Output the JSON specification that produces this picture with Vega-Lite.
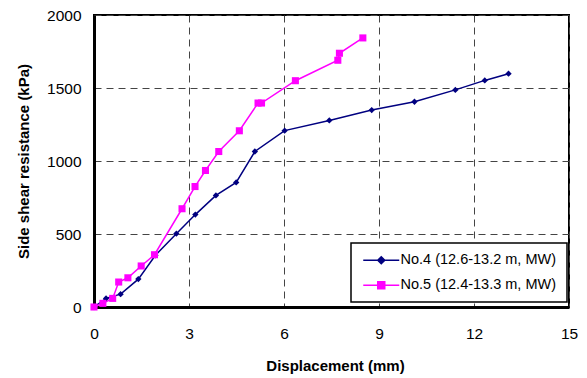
{
  "$schema": "https://vega.github.io/schema/vega-lite/v6.json",
  "width": 475,
  "height": 292,
  "autosize": {"type": "none"},
  "padding": {"left": 94, "top": 15, "right": 18, "bottom": 71},
  "background": "white",
  "config": {
    "font": "Liberation Sans",
    "view": {"stroke": "black", "strokeWidth": 2},
    "axis": {
      "labelFont": "Liberation Sans",
      "labelFontSize": 15.5,
      "labelColor": "black",
      "titleFont": "Liberation Sans",
      "titleFontSize": 15,
      "titleFontWeight": "bold",
      "titleColor": "black",
      "tickSize": 0,
      "domainColor": "black",
      "domainWidth": 3,
      "grid": true,
      "gridColor": "#444444",
      "gridDash": [7, 5],
      "gridWidth": 1
    }
  },
  "data": {
    "values": [
      {"series": "No.4 (12.6-13.2 m, MW)", "disp": 0, "shear": 0},
      {"series": "No.4 (12.6-13.2 m, MW)", "disp": 0.38, "shear": 59},
      {"series": "No.4 (12.6-13.2 m, MW)", "disp": 0.84, "shear": 88},
      {"series": "No.4 (12.6-13.2 m, MW)", "disp": 1.4, "shear": 191},
      {"series": "No.4 (12.6-13.2 m, MW)", "disp": 1.94, "shear": 354},
      {"series": "No.4 (12.6-13.2 m, MW)", "disp": 2.6, "shear": 502},
      {"series": "No.4 (12.6-13.2 m, MW)", "disp": 3.2, "shear": 633},
      {"series": "No.4 (12.6-13.2 m, MW)", "disp": 3.85, "shear": 764},
      {"series": "No.4 (12.6-13.2 m, MW)", "disp": 4.49, "shear": 853},
      {"series": "No.4 (12.6-13.2 m, MW)", "disp": 5.08, "shear": 1065},
      {"series": "No.4 (12.6-13.2 m, MW)", "disp": 6.02, "shear": 1208},
      {"series": "No.4 (12.6-13.2 m, MW)", "disp": 7.43, "shear": 1278},
      {"series": "No.4 (12.6-13.2 m, MW)", "disp": 8.77, "shear": 1349},
      {"series": "No.4 (12.6-13.2 m, MW)", "disp": 10.12, "shear": 1406},
      {"series": "No.4 (12.6-13.2 m, MW)", "disp": 11.41, "shear": 1487},
      {"series": "No.4 (12.6-13.2 m, MW)", "disp": 12.34, "shear": 1552},
      {"series": "No.4 (12.6-13.2 m, MW)", "disp": 13.09, "shear": 1598},
      {"series": "No.5 (12.4-13.3 m, MW)", "disp": 0, "shear": 0},
      {"series": "No.5 (12.4-13.3 m, MW)", "disp": 0.28, "shear": 25},
      {"series": "No.5 (12.4-13.3 m, MW)", "disp": 0.59, "shear": 59},
      {"series": "No.5 (12.4-13.3 m, MW)", "disp": 0.78, "shear": 171},
      {"series": "No.5 (12.4-13.3 m, MW)", "disp": 1.07, "shear": 200},
      {"series": "No.5 (12.4-13.3 m, MW)", "disp": 1.49, "shear": 281},
      {"series": "No.5 (12.4-13.3 m, MW)", "disp": 1.91, "shear": 358},
      {"series": "No.5 (12.4-13.3 m, MW)", "disp": 2.78, "shear": 673},
      {"series": "No.5 (12.4-13.3 m, MW)", "disp": 3.19, "shear": 825},
      {"series": "No.5 (12.4-13.3 m, MW)", "disp": 3.52, "shear": 935},
      {"series": "No.5 (12.4-13.3 m, MW)", "disp": 3.94, "shear": 1065},
      {"series": "No.5 (12.4-13.3 m, MW)", "disp": 4.59, "shear": 1207},
      {"series": "No.5 (12.4-13.3 m, MW)", "disp": 5.18, "shear": 1397},
      {"series": "No.5 (12.4-13.3 m, MW)", "disp": 5.29, "shear": 1397},
      {"series": "No.5 (12.4-13.3 m, MW)", "disp": 6.36, "shear": 1550},
      {"series": "No.5 (12.4-13.3 m, MW)", "disp": 7.7, "shear": 1690},
      {"series": "No.5 (12.4-13.3 m, MW)", "disp": 7.75, "shear": 1738},
      {"series": "No.5 (12.4-13.3 m, MW)", "disp": 8.49, "shear": 1843}
    ]
  },
  "encoding": {
    "x": {
      "field": "disp",
      "type": "quantitative",
      "scale": {"domain": [0, 15], "nice": false, "zero": false},
      "axis": {"values": [0, 3, 6, 9, 12, 15], "title": "Displacement (mm)", "labelPadding": 19, "titlePadding": 17, "titleX": 241, "labelFlush": false}
    },
    "y": {
      "field": "shear",
      "type": "quantitative",
      "scale": {"domain": [0, 2000], "nice": false},
      "axis": {"values": [0, 500, 1000, 1500, 2000], "format": "d", "title": "Side shear resistance (kPa)", "labelPadding": 13, "titlePadding": 15}
    },
    "color": {
      "field": "series",
      "type": "nominal",
      "scale": {"domain": ["No.4 (12.6-13.2 m, MW)", "No.5 (12.4-13.3 m, MW)"], "range": ["#000080", "#FF00FF"]},
      "legend": {
        "title": null,
        "orient": "none",
        "legendX": 257,
        "legendY": 228,
        "padding": 10,
        "fillColor": "white",
        "strokeColor": "black",
        "cornerRadius": 0,
        "labelFont": "Liberation Sans",
        "labelFontSize": 14.5,
        "labelColor": "black",
        "labelOffset": 12,
        "rowPadding": 10,
        "symbolSize": 100,
        "symbolOffset": 13,
        "symbolStrokeWidth": 1.5,
        "symbolOpacity": 1,
        "encode": {
          "legend": {
            "update": {
              "strokeWidth": {"value": 1.5}
            }
          },
          "symbols": {
            "update": {
              "shape": {"signal": "datum.value === 'No.4 (12.6-13.2 m, MW)' ? 'M-3.6,0H3.6M0,-0.7L0.7,0L0,0.7L-0.7,0Z' : 'M-3.6,0H3.6M-0.7,-0.7H0.7V0.7H-0.7Z'"},
              "fill": {"signal": "scale('color', datum.value)"},
              "stroke": {"signal": "scale('color', datum.value)"}
            }
          }
        }
      }
    }
  },
  "layer": [
    {"mark": {"type": "line", "strokeWidth": 1.5}},
    {
      "transform": [{"filter": "datum.series === 'No.4 (12.6-13.2 m, MW)'"}],
      "mark": {"type": "point", "shape": "diamond", "filled": true, "opacity": 1, "size": 40}
    },
    {
      "transform": [{"filter": "datum.series === 'No.5 (12.4-13.3 m, MW)'"}],
      "mark": {"type": "point", "shape": "square", "filled": true, "opacity": 1, "size": 50}
    }
  ]
}
